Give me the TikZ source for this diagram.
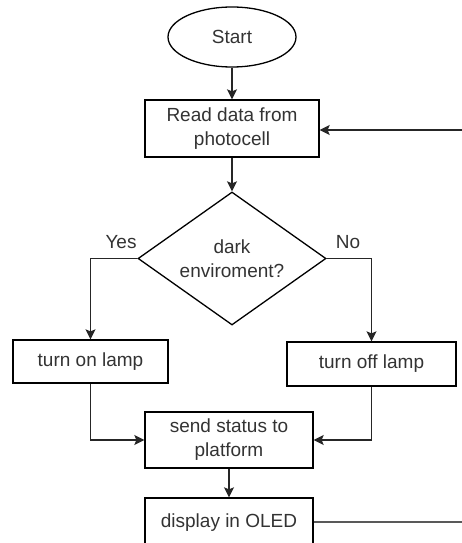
\documentclass[tikz,border=0pt]{standalone}
\usepackage{fontspec}
\setmainfont{Liberation Sans}
\usetikzlibrary{shapes.geometric}
\usetikzlibrary{arrows.meta}

\tikzset{
  every node/.style={font=\fontsize{19}{24}\selectfont, text=black!80, align=center},
  box/.style={draw, line width=1.3pt, inner sep=0pt},
  flow/.style={line width=1.4pt, draw=black!85, -{Stealth[length=10pt,width=10pt,inset=2pt]}},
  line/.style={line width=1.4pt, draw=black!65}
}

\begin{document}
\begin{tikzpicture}[x=1pt,y=-1pt]
\path[use as bounding box, clip] (0,0) rectangle (462,543);
\fill[white] (0,0) rectangle (462,543);

\node[box,ellipse,minimum width=128,minimum height=60] (start) at (232,37) {Start};
\node[box,minimum width=174,minimum height=57] (read) at (232,128.5) {Read data from\\photocell};
\node[box,diamond,aspect=1.41,minimum width=188,minimum height=133] (dark) at (232,258.5) {dark\\enviroment?};
\node[box,minimum width=155,minimum height=43] (on) at (90.5,361.5) {turn on lamp};
\node[box,minimum width=169,minimum height=44] (off) at (371.5,364) {turn off lamp};
\node[box,minimum width=168,minimum height=56] (send) at (229,440) {send status to\\platform};
\node[box,minimum width=168,minimum height=50] (oled) at (229,523) {display in OLED};

\node (yes) at (121,242) {Yes};
\node (no) at (348,242) {No};

\coordinate (backin) at (463,130);
\coordinate (backout) at (463,522);

\draw[flow] (start) -- (read);
\draw[flow] (read) -- (dark);
\draw[flow] (dark.west) -| (on.north);
\draw[flow] (dark.east) -| (off.north);
\draw[flow] (on.south) |- (send.west);
\draw[flow] (off.south) |- (send.east);
\draw[flow] (send) -- (oled);
\draw[line] (oled.east |- backout) -- (backout);
\draw[flow] (backin) -- (read.east |- backin);
%\draw[line] (backout) -- (backin);
\end{tikzpicture}
\end{document}
